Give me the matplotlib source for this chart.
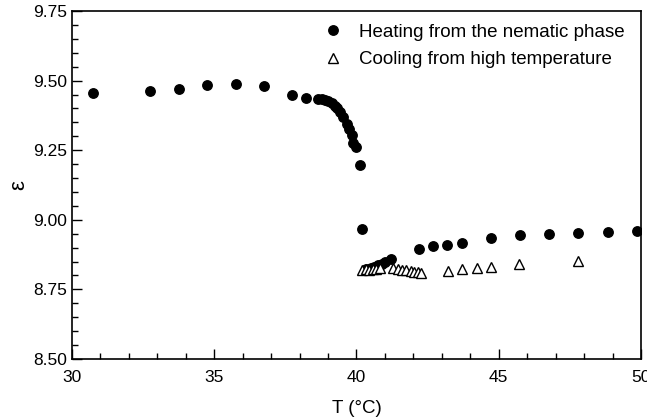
import matplotlib
matplotlib.use("Agg")
import matplotlib.pyplot as plt
from matplotlib.ticker import MultipleLocator, FormatStrFormatter

plt.rcParams['font.family'] = ['Liberation Sans', 'DejaVu Sans']

heat_T = [30.73, 32.75, 33.75, 34.76, 35.75, 36.74, 37.73, 38.22, 38.66,
          38.78, 38.90, 39.01, 39.13, 39.24, 39.33, 39.42, 39.54, 39.65,
          39.75, 39.83, 39.89, 40.00, 40.12, 40.21,
          40.35, 40.50, 40.62, 40.75, 40.88, 41.00, 41.20,
          42.21, 42.70, 43.19, 43.70, 44.72, 45.74, 46.77, 47.80, 48.84, 49.86]
heat_eps = [9.457, 9.464, 9.471, 9.483, 9.488, 9.481, 9.450, 9.439, 9.434,
            9.433, 9.430, 9.426, 9.418, 9.410, 9.400, 9.388, 9.370, 9.345,
            9.325, 9.305, 9.275, 9.263, 9.196, 8.966,
            8.825, 8.828, 8.832, 8.838, 8.843, 8.848, 8.860,
            8.894, 8.906, 8.910, 8.918, 8.934, 8.946, 8.949, 8.952, 8.955, 8.960]

cool_T = [40.20, 40.32, 40.45, 40.58, 40.70, 40.82,
          41.30, 41.45, 41.60, 41.75, 41.90, 42.02, 42.15, 42.28,
          43.20, 43.72, 44.22, 44.72, 45.72, 47.78]
cool_eps = [8.820, 8.822, 8.821, 8.823, 8.824, 8.826,
            8.828, 8.822, 8.820, 8.818, 8.815, 8.813, 8.811, 8.809,
            8.817, 8.823, 8.826, 8.832, 8.841, 8.853]

fig = plt.figure(figsize=(6.47, 4.20), dpi=100)
ax = fig.add_axes([0.1113, 0.1452, 0.8794, 0.8286])

ax.plot(heat_T, heat_eps, 'o', color='black', markersize=6.8,
        linestyle='none', label='Heating from the nematic phase')
ax.plot(cool_T, cool_eps, '^', markerfacecolor='white', markeredgecolor='black',
        markeredgewidth=1.0, markersize=6.5, linestyle='none',
        label='Cooling from high temperature')

ax.set_xlim(30, 50)
ax.set_ylim(8.50, 9.75)
ax.xaxis.set_major_locator(MultipleLocator(5))
ax.xaxis.set_minor_locator(MultipleLocator(1))
ax.yaxis.set_major_locator(MultipleLocator(0.25))
ax.yaxis.set_minor_locator(MultipleLocator(0.05))
ax.yaxis.set_major_formatter(FormatStrFormatter('%.2f'))
ax.tick_params(which='both', direction='in', labelsize=12.5, top=False, right=False)
ax.tick_params(which='major', length=7, width=1)
ax.tick_params(which='minor', length=4, width=1)
ax.tick_params(axis='x', pad=8)
for s in ax.spines.values():
    s.set_linewidth(1.2)

ax.set_xlabel('T (°C)', fontsize=13.5, labelpad=11)
ax.set_ylabel('ε', fontsize=16)
ax.yaxis.set_label_coords(-0.075, 0.5)

leg = ax.legend(loc='upper right', frameon=False, fontsize=13.5,
                handletextpad=0.9, bbox_to_anchor=(0.985, 0.985),
                borderaxespad=0.0, labelspacing=0.55, handlelength=1.0)

fig.savefig('out.png', dpi=100)
